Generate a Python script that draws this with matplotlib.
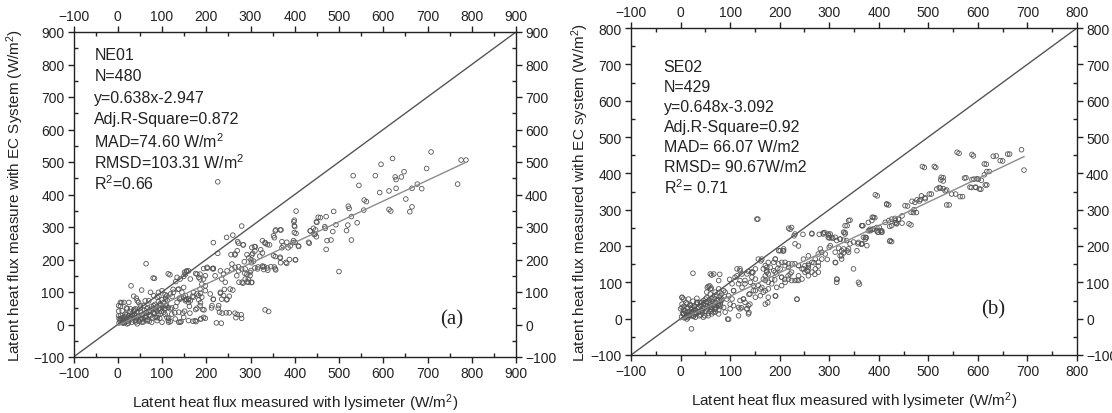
import matplotlib
matplotlib.use("Agg")
import matplotlib.pyplot as plt
from matplotlib.ticker import MultipleLocator
import numpy as np

plt.rcParams["font.family"] = ["Liberation Sans", "DejaVu Sans"]
plt.rcParams["mathtext.default"] = "regular"

# ---- panel (a) NE01: lysimeter (x) vs EC system (y) ----
a_x = [787, 776, 768, 698, 708, 677, 687, 665, 660, 665, 651, 647, 641, 627, 629, 629, 621, 613, 613, 617,
       595, 592, 582, 557, 562, 556, 545, 541, 532, 528, 523, 521, 517, 520, 528, 500, 493, 488, 486, 482,
       471, 468, 469, 473, 471, 458, 449, 447, 435, 444, 433, 449, 403, 398, 400, 403, 409, 402, 396, 385,
       382, 371, 371, 367, 357, 354, 356, 357, 369, 343, 346, 333, 331, 333, 341, 309, 305, 301, 301, 302,
       283, 287, 280, 284, 273, 270, 265, 260, 246, 273, 260, 232, 246, 265, 279, 280, 236, 234, 227, 226,
       216, 226, 216, 202, 198, 177, 183, 187, 195, 179, 163, 147, 143, 119, 115, 131, 139, 123, 107, 95,
       118, 155, 131, 83, 64, 30, 42, 54,
       271, 283, 265, 286, 303, 311, 327, 333, 338, 352, 356, 367, 323, 327, 321, 303, 307, 302, 310, 316,
       327, 338, 330, 356, 352, 367, 374, 382, 390, 401, 408, 397, 380, 401, 399, 399, 399, 435, 442, 450,
       453, 446, 431,
       156, 164, 179, 186, 198, 202, 216, 220, 232, 235, 239, 247, 243, 258, 258, 265, 269, 273, 280, 288,
       292, 295, 299, 288, 295, 303, 299,
       149, 153, 160, 171, 183, 190, 198, 209, 216, 232, 235, 239, 247, 228, 254, 186, 213,
       36, 153, 160, 134, 141, 149, 186, 183, 194, 190, 198, 186, 179, 171, 164, 160,
       138, 145, 149, 153, 155, 160, 141, 134, 126, 119, 111, 108, 100, 92, 89, 81, 74, 70, 62, 59,
       51, 47, 40, 36, 32, 29, 21, 17, 10, 6, 2, 14, 25, 44,
       2, 6, 10, 14, 17, 21, 25, 29, 32, 36, 40, 44, 47, 51, 55, 59, 62, 66, 70, 74,
       77, 81, 85, 89, 92, 96, 100, 104, 111, 115, 119, 122, 130, 138, 141, 149, 160, 175, 187, 194,
       108, 96, 81, 66,
       3, 5, 8, 12, 15, 18, 22, 26, 30, 34, 38, 42, 45, 48, 52, 56, 60, 64, 68, 72,
       76, 80, 84, 88, 92, 96, 100, 104, 108, 112, 3, 7, 11, 16, 20, 24, 28, 33, 37, 41,
       46, 50, 54, 58, 63, 67, 71, 75, 79, 83, 87, 91, 95, 99, 102, 106, 110, 114,
       80, 114, 151, 176, 194, 214, 256, 292, 296, 310, 317, 328, 339, 354, 368, 388, 274, 281, 292, 241,
       252, 216, 212, 230, 245, 252, 270, 267, 223, 188, 170, 138, 114, 129, 151, 162, 176, 187, 192, 169,
       154, 143, 136, 125, 107, 93, 96, 86, 89, 71, 57, 107, 122, 64, 38, 20, 9, 6, 2]
a_y = [506, 506, 432, 480, 531, 432, 418, 419, 347, 362, 386, 470, 454, 454, 446, 419, 511, 411, 354, 349,
       493, 406, 458, 383, 378, 352, 428, 313, 458, 260, 357, 364, 289, 306, 332, 163, 307, 348, 286, 260,
       332, 301, 296, 258, 231, 329, 316, 291, 288, 277, 250, 270, 349, 316, 301, 280, 240, 199, 252, 236,
       188, 255, 236, 204, 291, 267, 209, 168, 291, 245, 178, 252, 178, 45, 40, 240, 219, 199, 166, 129,
       127, 158, 303, 245, 250, 227, 214, 275, 268, 178, 106, 96, 76, 35, 30, 19, 35, 4, 50, 439,
       252, 219, 173, 173, 19, 9, 76, 96, 45, 50, 35, 35, 9, 9, 19, 55, 81, 86, 50, 19,
       153, 163, 132, 142, 187, 119, 81, 106,
       255, 245, 217, 193, 237, 239, 258, 250, 246, 273, 288, 291, 230, 220, 210, 214, 195, 190, 174, 171,
       180, 174, 169, 171, 212, 207, 242, 253, 242, 253, 242, 258, 191, 199, 321, 304, 283, 288, 296, 314,
       330, 278, 253,
       165, 140, 155, 140, 150, 176, 171, 150, 165, 140, 155, 165, 130, 186, 171, 176, 150, 165, 171, 171,
       155, 140, 150, 140, 130, 130, 160,
       114, 89, 78, 99, 89, 84, 104, 94, 78, 99, 78, 89, 78, 58, 109, 58, 58,
       87, 155, 165, 145, 140, 148, 155, 145, 140, 124, 119, 109, 94, 84, 73, 78,
       109, 99, 84, 73, 78, 68, 78, 68, 99, 94, 89, 78, 104, 99, 84, 89, 99, 73, 73, 58,
       58, 68, 48, 42, 32, 48, 48, 32, 42, 68, 58, 68, 68, 73,
       27, 17, 7, 22, 12, 2, 27, 17, 7, 22, 12, 2, 27, 17, 7, 32, 22, 12, 38, 27,
       7, 38, 22, 12, 48, 32, 7, 38, 22, 7, 48, 32, 17, 38, 7, 22, 12, 12, 17, 22,
       58, 58, 58, 48,
       5, 12, 20, 4, 15, 25, 10, 18, 24, 14, 30, 20, 36, 10, 40, 30, 44, 36, 52, 44,
       56, 48, 62, 54, 70, 64, 76, 68, 84, 74, 18, 28, 14, 6, 30, 4, 40, 28, 46, 8,
       24, 50, 18, 8, 26, 16, 30, 40, 20, 34, 44, 28, 50, 40, 56, 46, 60, 52,
       143, 156, 161, 157, 172, 172, 215, 215, 205, 226, 177, 177, 167, 177, 190, 200, 130, 130, 131, 108,
       87, 77, 51, 38, 36, 36, 31, 21, 5, 17, 10, 7, 13, 36, 41, 56, 46, 67, 46, 87,
       77, 82, 108, 108, 92, 87, 62, 46, 21, 10, 15, 31, 51, 36, 41, 51, 67, 56, 41]

# ---- panel (b) SE02 ----
b_x = [688, 693, 664, 650, 637, 617, 623, 618, 613, 607, 601, 606, 596, 587, 591, 592, 576, 569, 555, 562,
       542, 537, 530, 530, 522, 530, 515, 506, 492, 493, 486, 482, 476, 473, 458, 465, 470, 447, 440, 433,
       426, 436, 420, 426, 406, 397, 392, 396, 401, 382, 379, 375, 368, 365, 361, 342, 336, 332, 329, 325,
       316, 307, 313, 300, 300, 296, 291, 280, 278, 271, 269, 257, 258, 247, 238, 235, 235, 229, 221, 217,
       210, 207, 196, 192, 176, 162, 156, 146, 138, 138, 120, 123, 99, 79, 97, 63, 59, 25, 22, 3,
       60, 67, 77, 54, 60, 0, 6, 13,
       40, 46, 50, 36, 43, 30, 26, 16, 9, 6, 13, 23, 33, 56, 63, 70, 60, 70, 77, 83,
       80, 83, 90,
       114, 120, 110, 117, 130, 134, 144, 147, 140, 127, 134, 140, 124, 107, 104, 100,
       157, 171, 174, 167, 177, 164, 171, 191, 198, 208, 201, 191, 204, 211, 218, 224, 211, 204, 235, 231,
       224, 231, 265, 248, 238, 248, 258, 251, 238, 224, 278, 285, 288, 298, 302, 315, 322, 332, 325, 339,
       312, 292, 349, 366, 376, 359, 349, 312, 278, 265, 258,
       154, 416, 218, 265, 288, 298, 302, 312, 315, 322, 329, 332, 339, 335, 342, 339, 329, 322, 325,
       359, 366, 369, 373, 356, 366, 383, 389, 396, 399, 403, 406, 413, 420, 426, 433, 423, 389, 386,
       144, 151, 157, 167, 174, 181, 188, 198, 204, 211, 218, 225, 231, 238, 245, 251, 255, 258, 265, 272,
       278, 285, 282, 208, 201, 191, 177, 171, 204, 218, 231, 245, 258, 272, 315, 238, 221, 194, 184,
       660, 645, 631, 613, 618, 615, 603, 595, 584, 598, 588, 573, 564, 558, 588, 547, 537, 534, 524, 517,
       526, 525, 512, 488, 502, 494, 484, 477, 467, 471, 465, 453, 461, 447, 440, 436, 433, 422, 422, 416,
       406, 398, 393, 387, 386, 379, 366, 373, 358, 299, 305, 319, 336, 329,
       56, 62, 53, 60, 50, 43, 33, 16, 19, 3, 3, 9, 6, 16, 13, 30, 36, 43, 53, 63,
       70, 80, 87, 83, 93, 97, 107, 104, 114, 120, 124, 137, 130, 141, 147, 161, 151, 167, 177, 184,
       190, 171, 177, 188, 174, 164, 151, 144, 120, 127, 130, 137, 134, 120, 117, 107, 100, 90, 77, 70,
       63, 56, 46, 26, 23, 77, 87, 70, 151, 161, 171, 177, 191, 194, 137, 117, 95,
       2, 4, 6, 8, 10, 12, 14, 16, 18, 20, 22, 24, 26, 28, 30, 32, 34, 36, 38, 40,
       42, 44, 46, 48, 50, 52, 54, 56, 58, 60, 62, 64, 66, 68, 70, 72, 74, 76, 78, 80,
       3, 7, 11, 15, 21, 25, 29, 33, 37, 41, 45, 49, 53, 57, 61, 65, 69, 73, 77, 81]
b_y = [465, 409, 453, 434, 448, 425, 405, 368, 396, 381, 384, 356, 361, 361, 448, 384, 388, 336, 343, 455,
       313, 354, 388, 379, 361, 358, 416, 343, 416, 333, 338, 324, 292, 320, 310, 258, 292, 283, 274, 264,
       256, 263, 313, 212, 242, 338, 278, 242, 251, 246, 265, 223, 256, 205, 95, 271, 256, 237, 216, 173,
       108, 221, 154, 222, 196, 163, 237, 232, 145, 122, 154, 131, 150, 232, 200, 106, 53, 228, 246, 118,
       108, 186, 138, 62, 44, 159, 274, 127, 67, 17, 137, 30, 108, 122, -2, 120, 90, 125, -28, 58,
       123, 123, 105, 86, 82, 27, 54, 40,
       45, 50, 36, 31, 22, 17, 8, 8, 4, 13, 17, 27, 40, 45, 54, 45, 31, 27, 36, 50,
       63, 68, 73,
       137, 132, 114, 96, 105, 123, 128, 77, 68, 54, 27, 40, 86, 77, 54, 40,
       164, 146, 128, 109, 100, 86, 77, 164, 187, 192, 137, 128, 114, 155, 151, 128, 100, 91, 54, 206,
       251, 233, 233, 164, 146, 137, 146, 128, 105, 105, 155, 183, 233, 233, 201, 100, 219, 233, 187, 183,
       183, 178, 211, 206, 201, 100, 137, 155, 128, 128, 173,
       274, 316, 249, 235, 236, 224, 233, 224, 215, 219, 238, 256, 270, 215, 206, 192, 192, 173, 164,
       210, 206, 224, 219, 187, 256, 242, 247, 251, 238, 242, 238, 265, 270, 274, 270, 215, 279, 270,
       128, 109, 91, 137, 132, 141, 155, 151, 155, 146, 141, 151, 151, 146, 137, 146, 132, 141, 155, 164,
       178, 164, 192, 187, 187, 164, 155, 118, 114, 109, 105, 109, 118, 137, 109, 118, 123, 123, 109,
       453, 435, 447, 426, 405, 368, 357, 362, 362, 385, 383, 387, 336, 458, 452, 343, 313, 352, 359, 357,
       389, 382, 419, 419, 343, 330, 328, 327, 323, 300, 293, 311, 261, 263, 274, 261, 276, 254, 213, 314,
       238, 238, 341, 279, 245, 242, 256, 224, 206, 229, 224, 194, 187, 181,
       89, 84, 73, 68, 54, 45, 45, 54, 36, 59, 31, 22, 13, 8, -1, 4, 18, 22, 27, 31,
       36, 40, 31, 54, 54, 63, 77, 96, 118, 105, 123, 130, 96, 100, 91, 82, 77, 73, 82, 96,
       107, 105, 123, 132, 141, 164, 137, 114, 50, 54, 45, 36, 27, 27, 31, 36, 27, 18, 13, 18,
       13, 8, 4, 22, 31, 82, 77, 73, 59, 63, 40, 59, 63, 86, 13, 8, -1,
       5, 14, 24, 2, 18, 8, 30, 20, 12, 38, 26, 16, 6, 34, 24, 14, 44, 30, 8, 36,
       24, 16, 40, 30, 20, 46, 36, 14, 50, 40, 26, 48, 18, 56, 44, 30, 52, 40, 60, 48,
       40, 34, 44, 3, 8, 48, 12, 56, 20, 10, 28, 8, 58, 32, 20, 36, 26, 62, 24, 34]

panels = [
    dict(x=a_x, y=a_y, lim=900, slope=0.638, icpt=-2.947, tag="(a)", tag_xy=(755, 17),
         ylabel="Latent heat flux measure with EC System (W/m$^2$)",
         lines=["NE01", "N=480", "y=0.638x-2.947", "Adj.R-Square=0.872",
                "MAD=74.60 W/m$^2$", "RMSD=103.31 W/m$^2$", "R$^2$=0.66"],
         txt_x=-53, txt_y0=831, txt_dy=66,
         rect=[73.5 / 1112, 56 / 414, 442.5 / 1112, 325 / 414], ylab_x=-0.108, xlab_y=-0.105),
    dict(x=b_x, y=b_y, lim=800, slope=0.648, icpt=-3.092, tag="(b)", tag_xy=(631, 27),
         ylabel="Latent heat flux measured with EC system (W/m$^2$)",
         lines=["SE02", "N=429", "y=0.648x-3.092", "Adj.R-Square=0.92",
                "MAD= 66.07 W/m2", "RMSD= 90.67W/m2", "R$^2$= 0.71"],
         txt_x=-34, txt_y0=693, txt_dy=55,
         rect=[631 / 1112, 58 / 414, 446 / 1112, 327 / 414], ylab_x=-0.090, xlab_y=-0.106),
]

fig = plt.figure(figsize=(11.12, 4.14), dpi=100)

for p in panels:
    ax = fig.add_axes(p["rect"])
    lo, hi = -100, p["lim"]
    ax.set_xlim(lo, hi)
    ax.set_ylim(lo, hi)

    # 1:1 line
    ax.plot([lo, hi], [lo, hi], color="#555555", lw=1.0, zorder=2)

    ax.scatter(p["x"], p["y"], s=11, facecolors="none", edgecolors="#555555",
               linewidths=0.6, zorder=3)

    # regression line
    xs = np.array([min(p["x"]), max(p["x"])])
    ax.plot(xs, p["slope"] * xs + p["icpt"], color="#8c8c8c", lw=1.0, zorder=4)

    for i, s in enumerate(p["lines"]):
        ax.text(p["txt_x"], p["txt_y0"] - i * p["txt_dy"], s, fontsize=11.5,
                ha="left", va="center", color="#222222")

    ax.text(p["tag_xy"][0], p["tag_xy"][1], p["tag"], fontsize=15,
            family="Liberation Serif", ha="center", va="center", color="#222222")

    ax.xaxis.set_major_locator(MultipleLocator(100))
    ax.yaxis.set_major_locator(MultipleLocator(100))
    ax.xaxis.set_minor_locator(MultipleLocator(50))
    ax.yaxis.set_minor_locator(MultipleLocator(50))
    ax.tick_params(which="both", top=True, right=True, labeltop=True, labelright=True,
                   labelsize=10, colors="#222222")
    ax.tick_params(which="major", direction="out", length=4, width=1, pad=2.5)
    ax.tick_params(which="minor", direction="in", length=3, width=1)
    for sp in ax.spines.values():
        sp.set_color("#222222")
        sp.set_linewidth(1.0)

    ax.set_xlabel("Latent heat flux measured with lysimeter (W/m$^2$)", fontsize=11, color="#222222")
    ax.set_ylabel(p["ylabel"], fontsize=11, color="#222222")
    ax.yaxis.set_label_coords(p["ylab_x"], 0.5)
    ax.xaxis.set_label_coords(0.5, p["xlab_y"])

fig.savefig("out.png", dpi=100, facecolor="white")
